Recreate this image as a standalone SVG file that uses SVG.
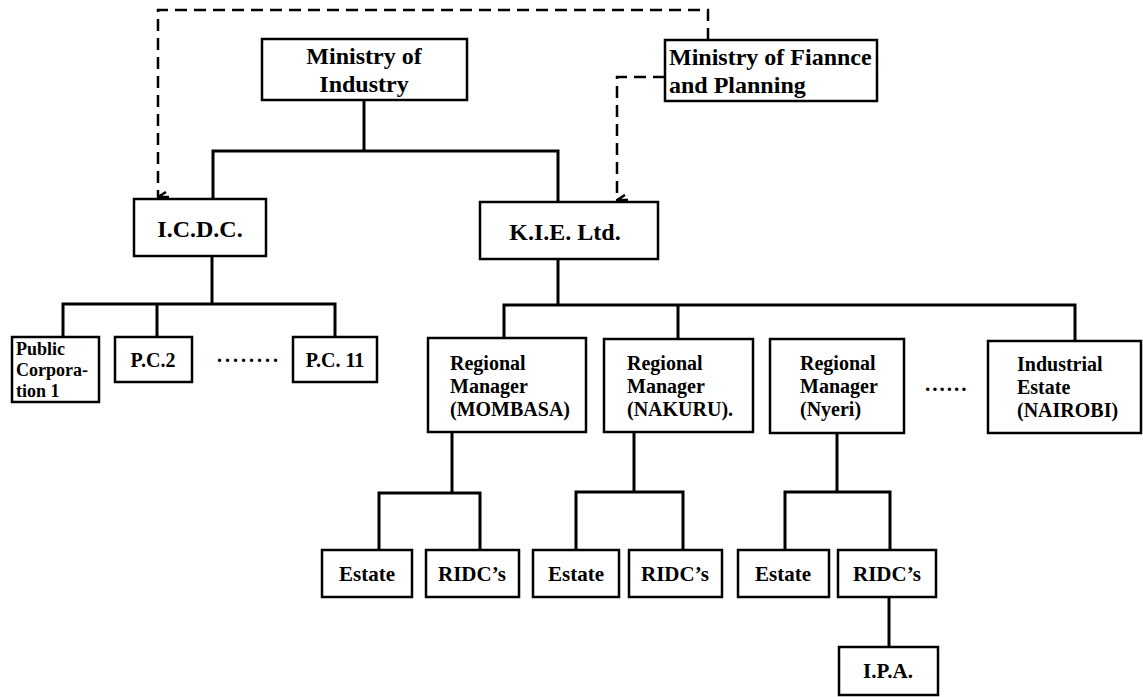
<svg xmlns="http://www.w3.org/2000/svg" width="1143" height="697" viewBox="0 0 1143 697">
<style>
  .box { fill: #fff; stroke: #000; stroke-width: 2.5; }
  .ln { fill: none; stroke: #000; stroke-width: 3; }
  .dash { fill: none; stroke: #000; stroke-width: 2.5; stroke-dasharray: 12 7; }
  text { font-family: "Liberation Serif", "Times New Roman", serif; font-weight: bold; fill: #000; }
  .big { font-size: 24px; }
  .sm { font-size: 20px; }
  .xs { font-size: 18px; }
  .md { font-size: 21px; }
  .rg { font-size: 20px; }
  .c { text-anchor: middle; }
</style>
<defs>
  <marker id="arr" viewBox="0 0 12 12" refX="6" refY="11" markerWidth="12" markerHeight="12" markerUnits="userSpaceOnUse" orient="auto-start-reverse">
    <path d="M1,3 L6,11 L11,3 M6,11 V0" fill="none" stroke="#000" stroke-width="2.5"/>
  </marker>
</defs>
<rect width="1143" height="697" fill="#fff"/>

<g id="connectors">
  <!-- dashed links from Ministry of Finance -->
  <path class="dash" d="M708,40 V10 H158 V197" marker-end="url(#arr)"/>
  <path class="dash" d="M665,77 H617 V200" marker-end="url(#arr)"/>
  <!-- Ministry of Industry to ICDC / KIE -->
  <path class="ln" d="M364,100 V151"/>
  <path class="ln" d="M213,199 V151 H558 V202"/>
  <!-- ICDC children -->
  <path class="ln" d="M212,256 V304"/>
  <path class="ln" d="M63,337 V304 H335 V337"/>
  <path class="ln" d="M157,304 V337"/>
  <!-- KIE children -->
  <path class="ln" d="M558,259 V305"/>
  <path class="ln" d="M504,338 V305 H1075 V341"/>
  <path class="ln" d="M678,305 V339"/>
  <!-- Mombasa -->
  <path class="ln" d="M452,432 V493"/>
  <path class="ln" d="M379,550 V493 H480 V550"/>
  <!-- Nakuru -->
  <path class="ln" d="M634,432 V492"/>
  <path class="ln" d="M576,550 V492 H683 V550"/>
  <!-- Nyeri -->
  <path class="ln" d="M837,433 V492"/>
  <path class="ln" d="M785,550 V492 H890 V550"/>
  <!-- RIDC to IPA -->
  <path class="ln" d="M889,597 V647"/>
</g>

<g id="ministry-industry">
  <rect class="box" x="262" y="39" width="205" height="61"/>
  <text class="big c" x="364" y="64">Ministry of</text>
  <text class="big c" x="364" y="92">Industry</text>
</g>

<g id="ministry-finance">
  <rect class="box" x="665" y="40" width="212" height="61"/>
  <text class="big" x="669" y="65">Ministry of Fiannce</text>
  <text class="big" x="669" y="93">and Planning</text>
</g>

<g id="icdc">
  <rect class="box" x="134" y="199" width="132" height="57"/>
  <text class="big c" x="200" y="237">I.C.D.C.</text>
</g>

<g id="kie">
  <rect class="box" x="480" y="202" width="178" height="57"/>
  <text class="big c" x="565" y="240">K.I.E. Ltd.</text>
</g>

<g id="pc1">
  <rect class="box" x="12" y="337" width="87" height="65"/>
  <text class="xs" x="16" y="355">Public</text>
  <text class="xs" x="16" y="376">Corpora-</text>
  <text class="xs" x="16" y="397">tion 1</text>
</g>

<g id="pc2">
  <rect class="box" x="115" y="337" width="77" height="45"/>
  <text class="sm c" x="153" y="367">P.C.2</text>
</g>

<text class="sm" x="217" y="362" style="letter-spacing:3px">........</text>

<g id="pc11">
  <rect class="box" x="293" y="337" width="84" height="45"/>
  <text class="sm c" x="335" y="367">P.C. 11</text>
</g>

<g id="rm-mombasa">
  <rect class="box" x="428" y="338" width="158" height="94"/>
  <text class="rg" x="450" y="370">Regional</text>
  <text class="rg" x="450" y="393">Manager</text>
  <text class="rg" x="450" y="416">(MOMBASA)</text>
</g>

<g id="rm-nakuru">
  <rect class="box" x="604" y="339" width="149" height="93"/>
  <text class="rg" x="627" y="370">Regional</text>
  <text class="rg" x="627" y="393">Manager</text>
  <text class="rg" x="627" y="416">(NAKURU).</text>
</g>

<g id="rm-nyeri">
  <rect class="box" x="770" y="339" width="134" height="94"/>
  <text class="rg" x="800" y="370">Regional</text>
  <text class="rg" x="800" y="393">Manager</text>
  <text class="rg" x="800" y="416">(Nyeri)</text>
</g>

<text class="md" x="925" y="391" style="letter-spacing:2px">......</text>

<g id="estate-nairobi">
  <rect class="box" x="988" y="341" width="153" height="92"/>
  <text class="rg" x="1017" y="371">Industrial</text>
  <text class="rg" x="1017" y="394">Estate</text>
  <text class="rg" x="1017" y="417">(NAIROBI)</text>
</g>

<g id="estate-1">
  <rect class="box" x="322" y="550" width="90" height="47"/>
  <text class="md c" x="367" y="581">Estate</text>
</g>
<g id="ridc-1">
  <rect class="box" x="426" y="550" width="93" height="47"/>
  <text class="md c" x="472" y="581">RIDC’s</text>
</g>
<g id="estate-2">
  <rect class="box" x="533" y="550" width="86" height="47"/>
  <text class="md c" x="576" y="581">Estate</text>
</g>
<g id="ridc-2">
  <rect class="box" x="629" y="550" width="93" height="47"/>
  <text class="md c" x="675" y="581">RIDC’s</text>
</g>
<g id="estate-3">
  <rect class="box" x="738" y="550" width="91" height="47"/>
  <text class="md c" x="783" y="581">Estate</text>
</g>
<g id="ridc-3">
  <rect class="box" x="838" y="550" width="98" height="47"/>
  <text class="md c" x="887" y="581">RIDC’s</text>
</g>
<g id="ipa">
  <rect class="box" x="839" y="647" width="99" height="48"/>
  <text class="md c" x="888" y="678">I.P.A.</text>
</g>
</svg>
